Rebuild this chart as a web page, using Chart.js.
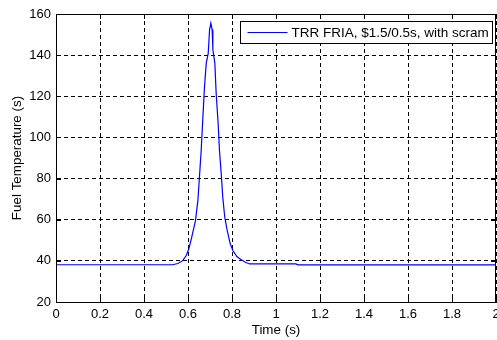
<!DOCTYPE html>
<html>
<head>
<meta charset="utf-8">
<script src="https://cdn.jsdelivr.net/npm/chart.js@4/dist/chart.umd.min.js"></script>
<style>
  html, body { margin: 0; padding: 0; background: #fff; }
</style>
</head>
<body>
<canvas id="c" width="497" height="340"></canvas>
<script>
// values
const seriesLabel = 'TRR FRIA, $1.5/0.5s, with scram';
const timeS = [0, 0.53, 0.554, 0.576, 0.592, 0.604, 0.617, 0.634, 0.645, 0.652, 0.66, 0.667,
  0.675, 0.683, 0.692, 0.698, 0.704, 0.71, 0.713, 0.722, 0.728, 0.737, 0.743, 0.751, 0.758,
  0.767, 0.778, 0.792, 0.804, 0.822, 0.842, 0.861, 0.88, 1.09, 1.1, 2.0];
const fuelTemp = [38.1, 38.1, 38.7, 40.1, 42.6, 45.9, 51.5, 59.6, 69.4, 80.8, 93.8, 108.4,
  124.7, 136.1, 141, 152.3, 155.6, 152.3, 142.6, 136.1, 121.5, 106.8, 93.8, 82.4, 71,
  61.3, 54.8, 48.3, 45, 42.1, 40.5, 39.3, 38.5, 38.5, 38.05, 38.05];
const xTicks = [0, 0.2, 0.4, 0.6, 0.8, 1, 1.2, 1.4, 1.6, 1.8, 2];
const yTicks = [20, 40, 60, 80, 100, 120, 140, 160];

const FAMILY = '"Liberation Sans", Arial, sans-serif';
const FONT = { family: FAMILY, size: 13 };
const TITLE_FONT = { family: FAMILY, size: 13.4 };

// matlab style box with inward ticks
const framePlugin = {
  id: 'frame',
  afterDraw(chart) {
    const { ctx, chartArea: a, scales } = chart;
    ctx.save();
    ctx.strokeStyle = '#000';
    ctx.lineWidth = 1;
    ctx.beginPath();
    ctx.rect(Math.round(a.left) + 0.5, Math.round(a.top) + 0.5,
      Math.round(a.right - a.left) - 1, Math.round(a.bottom - a.top));
    scales.x.ticks.forEach(t => {
      const px = Math.round(scales.x.getPixelForValue(t.value)) + 0.5;
      ctx.moveTo(px, a.top); ctx.lineTo(px, a.top + 5);
      ctx.moveTo(px, a.bottom); ctx.lineTo(px, a.bottom - 5);
    });
    scales.y.ticks.forEach(t => {
      const py = Math.round(scales.y.getPixelForValue(t.value)) + 0.5;
      ctx.moveTo(a.left, py); ctx.lineTo(a.left + 5, py);
      ctx.moveTo(a.right, py); ctx.lineTo(a.right - 5, py);
    });
    ctx.stroke();
    ctx.restore();
  }
};

// boxed legend in the top right corner
const legendBox = {
  id: 'legendBox',
  afterDraw(chart) {
    const { ctx, chartArea: a } = chart;
    const ds = chart.data.datasets[0];
    ctx.save();
    ctx.font = '13.5px ' + FAMILY;
    const tw = ctx.measureText(ds.label).width;
    const right = Math.round(a.right) - 3.5;
    const top = Math.round(a.top) + 7.5;
    const w = tw + 55, h = 22;
    const left = Math.round(right - w) + 0.5;
    ctx.fillStyle = '#fff';
    ctx.fillRect(left, top, right - left, h);
    ctx.strokeStyle = '#000';
    ctx.lineWidth = 1;
    ctx.strokeRect(left, top, right - left, h);
    ctx.strokeStyle = ds.borderColor;
    ctx.beginPath();
    ctx.moveTo(left + 7, top + 11);
    ctx.lineTo(left + 47, top + 11);
    ctx.stroke();
    ctx.fillStyle = '#000';
    ctx.textBaseline = 'middle';
    ctx.fillText(ds.label, left + 51, top + 11.5);
    ctx.restore();
  }
};

const gridOpts = { color: '#000', lineWidth: 1, drawTicks: false };
const borderOpts = { display: true, color: '#000', width: 1, dash: [4, 3] };

new Chart(document.getElementById('c'), {
  type: 'line',
  data: {
    datasets: [{
      label: seriesLabel,
      data: timeS.map((t, i) => ({ x: t, y: fuelTemp[i] })),
      borderColor: '#0000ff',
      borderWidth: 1.2,
      pointRadius: 0,
      tension: 0,
      fill: false
    }]
  },
  options: {
    responsive: false,
    animation: false,
    layout: { padding: { top: 14, right: 1, left: 0, bottom: 0 } },
    plugins: { legend: { display: false }, tooltip: { enabled: false } },
    scales: {
      x: {
        type: 'linear', min: 0, max: 2,
        afterBuildTicks: s => { s.ticks = xTicks.map(v => ({ value: v })); },
        afterFit: s => { s.height = 38; s.paddingLeft = 0; s.paddingRight = 0; },
        grid: gridOpts,
        border: borderOpts,
        ticks: { color: '#000', font: FONT, padding: 5, maxRotation: 0, callback: v => String(v) },
        title: { display: true, text: 'Time (s)', color: '#000', font: TITLE_FONT, padding: { top: 0, bottom: 2 } }
      },
      y: {
        min: 20, max: 160,
        afterBuildTicks: s => { s.ticks = yTicks.map(v => ({ value: v })); },
        afterFit: s => { s.width = 56; },
        grid: gridOpts,
        border: borderOpts,
        ticks: { color: '#000', font: FONT, padding: 5, callback: v => String(v) },
        title: { display: true, text: 'Fuel Temperature (s)', color: '#000', font: TITLE_FONT, padding: { top: 9, bottom: 0 } }
      }
    }
  },
  plugins: [framePlugin, legendBox]
});
</script>
</body>
</html>
